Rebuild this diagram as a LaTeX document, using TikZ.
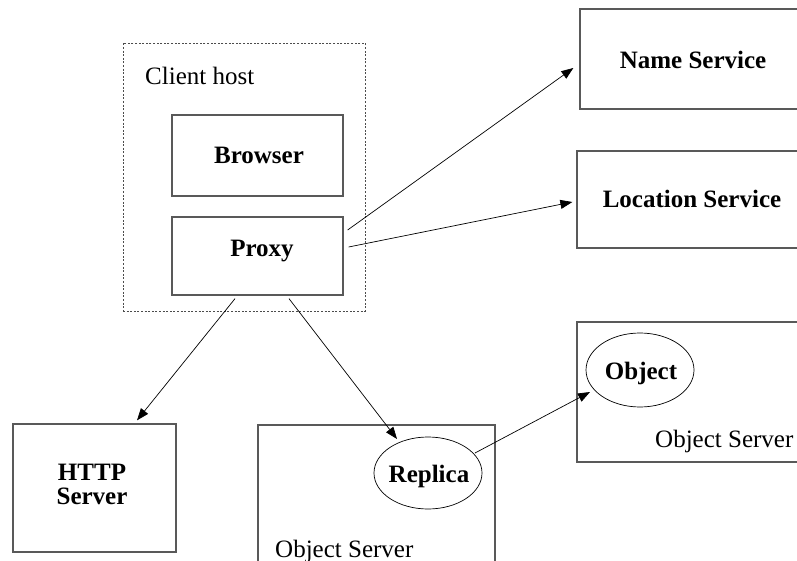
\documentclass[tikz,border=0pt]{standalone}
\usepackage{fontspec}
\setmainfont{Liberation Serif}
\usetikzlibrary{arrows.meta,shapes.geometric}
\begin{document}
\begin{tikzpicture}[x=1pt,y=-1pt,
  box/.style={draw=black!65, line width=1.3pt, rectangle, inner sep=0pt},
  oval/.style={draw=black, line width=0.7pt, ellipse, inner sep=0pt},
  hostbox/.style={draw=black!70, line width=0.9pt, dash pattern=on 2pt off 1.6pt, rectangle, inner sep=0pt},
  lbl/.style={font=\bfseries\fontsize{25}{24}\selectfont, inner sep=0pt},
  txt/.style={font=\fontsize{25}{30}\selectfont, inner sep=0pt},
  link/.style={-{Triangle[length=12pt,width=9pt]}, line width=0.7pt}
]
\useasboundingbox (0,0) rectangle (797,561);
\clip (0,0) rectangle (797,561);

% client host with its two components
\node[hostbox, minimum width=242pt, minimum height=268pt] (host) at (244,177) {};
\node[txt, anchor=base west] (hostlbl) at (145,85) {Client host};
\node[box, minimum width=171pt, minimum height=81pt] (browser) at (257.5,155.5) {};
\node[lbl, anchor=base] (browserlbl) at (259,164) {Browser};
\node[box, minimum width=171pt, minimum height=78pt] (proxy) at (257.5,256) {};
\node[lbl, anchor=base] (proxylbl) at (262,256) {Proxy};

% naming and location services
\node[box, minimum width=226pt, minimum height=100pt] (name) at (693,59) {};
\node[lbl, anchor=base] (namelbl) at (693,69) {Name Service};
\node[box, minimum width=230pt, minimum height=97pt] (loc) at (692,199.5) {};
\node[lbl, anchor=base] (loclbl) at (692,208) {Location Service};

% web server
\node[box, minimum width=163pt, minimum height=128pt] (http) at (94.5,488) {};
\node[lbl, align=center] (httplbl) at (92,484) {HTTP\\Server};

% object servers
\node[box, minimum width=237pt, minimum height=175pt] (osleft) at (376.5,512.5) {};
\node[txt, anchor=base west] (osleftlbl) at (275,557) {Object Server};
\node[oval, minimum width=108pt, minimum height=72pt] (replica) at (428,473) {};
\node[lbl, anchor=base] (replicalbl) at (429,482) {Replica};

\node[box, minimum width=230pt, minimum height=140pt] (osright) at (692,392) {};
\node[txt, anchor=base west] (osrightlbl) at (655,447) {Object Server};
\node[oval, minimum width=108pt, minimum height=74pt] (object) at (640,370) {};
\node[lbl, anchor=base] (objectlbl) at (641,379) {Object};

% requests issued by the proxy
\draw[link] ([shift={(4,-26)}]proxy.east) -- ([shift={(-6,9)}]name.west);
\draw[link] ([shift={(5,-9)}]proxy.east) -- ([shift={(-4,2.5)}]loc.west);
\draw[link] ([shift={(-22.5,3)}]proxy.south) -- ([shift={(42.5,-3)}]http.north);
\draw[link] ([shift={(31.5,3)}]proxy.south) -- ([shift={(-31,-34)}]replica.center);
\draw[link] ([shift={(47,-20)}]replica.center) -- ([shift={(-50,22)}]object.center);
\end{tikzpicture}
\end{document}
